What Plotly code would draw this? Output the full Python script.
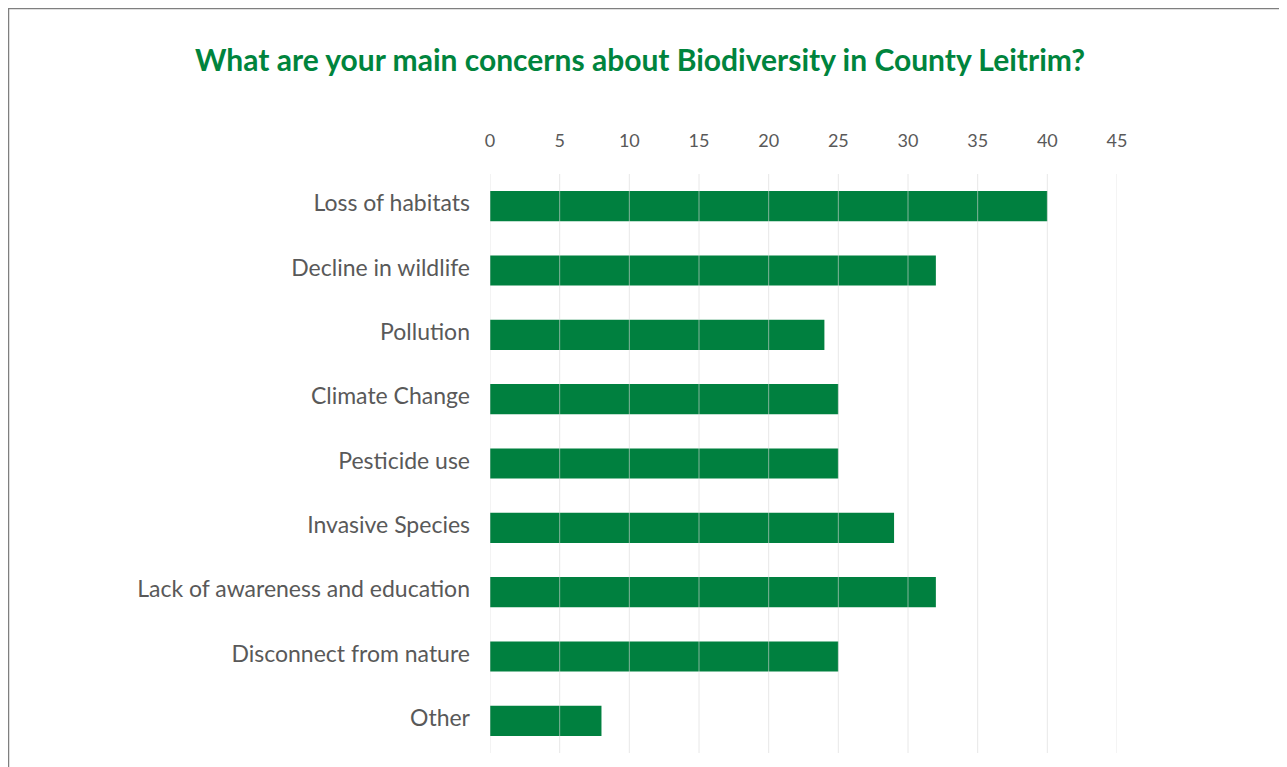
import plotly.graph_objects as go

categories = ["Loss of habitats", "Decline in wildlife", "Pollution", "Climate Change",
              "Pesticide use", "Invasive Species", "Lack of awareness and education",
              "Disconnect from nature", "Other"]
values = [40, 32, 24, 25, 25, 29, 32, 25, 8]
tick_values = [0, 5, 10, 15, 20, 25, 30, 35, 40, 45]
title_text = "What are your main concerns about Biodiversity in County Leitrim?"

W, H = 1287, 767
L, R, T, B = 482, 178, 166, 22

fig = go.Figure(go.Bar(
    x=values, y=categories, orientation="h",
    marker=dict(color="#00803F", line=dict(width=0)),
    width=0.47,
))

# gridlines drawn above bars (as in reference)
for tv in tick_values:
    fig.add_shape(type="line", xref="x", yref="paper", x0=tv, x1=tv, y0=0, y1=1.0,
                  line=dict(color="rgba(217,217,217,0.6)", width=1), layer="above")

# outer chart border
fig.add_shape(type="rect", xref="paper", yref="paper",
              xsizemode="pixel", ysizemode="pixel", xanchor=0, yanchor=1,
              x0=0.5 - L, x1=1272 - L, y0=T - 0.5, y1=-(H + 50 - T),
              line=dict(color="#7F7F7F", width=1.5), fillcolor="rgba(0,0,0,0)", layer="below")

fig.update_layout(
    width=W, height=H,
    margin=dict(l=L, r=R, t=T, b=B),
    paper_bgcolor="white", plot_bgcolor="white",
    font=dict(family="Lato", color="#595959"),
    title=dict(text="<b>" + title_text + "</b>", x=(632) / W, xref="container", xanchor="center",
               y=1 - 52 / H, yanchor="middle",
               font=dict(family="Lato", size=30, color="#00843D")),
    showlegend=False,
)

fig.update_xaxes(
    side="top", range=[0, 45], tickmode="array", tickvals=tick_values,
    ticktext=[str(v) for v in tick_values],
    showgrid=False, zeroline=False, showline=False, ticks="",
    tickfont=dict(size=18, color="#595959"), ticklabelstandoff=22,
)
fig.update_yaxes(
    autorange="reversed", showgrid=False, zeroline=False, showline=False, ticks="",
    tickfont=dict(size=23, color="#595959"), ticklabelstandoff=19, ticklabelshift=3,
)

fig.write_html("out.html")
